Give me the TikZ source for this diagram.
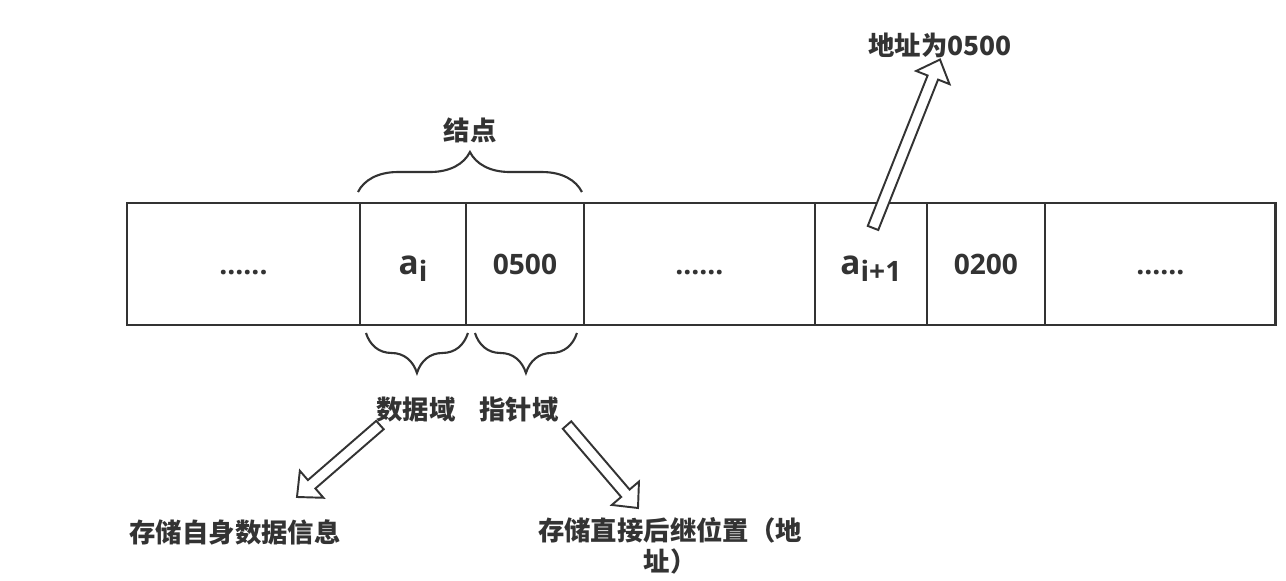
\documentclass[tikz,border=0pt]{standalone}
\usepackage{fontspec}
\setmainfont{Open Sans}
\newfontfamily\cjk{Noto Sans CJK SC}
\usetikzlibrary{positioning, calc, decorations.pathreplacing}
\definecolor{ink}{HTML}{333333}

\begin{document}
\begin{tikzpicture}[
      x=0.02cm, y=-0.02cm,
      cell/.style={rectangle, draw=ink, line width=1.5pt, outer sep=0pt, minimum height=2.44cm,
        text height=11.5pt, text depth=0pt, text=ink, font=\fontsize{16}{18}\selectfont\bfseries},
      cjktext/.style={text=ink, inner sep=1pt, font=\fontsize{15}{18}\selectfont\cjk\bfseries},
      bracepath/.style={draw=ink, line width=1.2pt, decorate, decoration={brace, amplitude=0.8cm}},
      hollowarrow/.style={draw=ink, line width=1.1pt, fill=white, line join=miter,
        to path={let \p1=(\tikztostart), \p2=(\tikztotarget),
          \n1={atan2(\y2-\y1,\x2-\x1)}, \n2={veclen(\x2-\x1,\y2-\y1)-11pt} in
          (\p1) ++(\n1+90:3.2pt) -- ++(\n1:\n2) -- ++(\n1+90:7pt) -- (\p2)
          -- ($(\p2)+(\n1+180:11pt)+(\n1-90:10.2pt)$) -- ++(\n1+90:7pt) -- ++(\n1+180:\n2) -- cycle}}
  ]
      \useasboundingbox (0,0) rectangle (1286,581);

      % Storage row
      \node[cell, minimum width=4.66cm] (c1) at (243.5,264) {......};
      \node[cell, minimum width=2.12cm, right=0pt of c1] (c2) {{\fontsize{19}{20}\selectfont a}\raisebox{-4pt}[0pt][0pt]{i}};
      \node[cell, minimum width=2.36cm, right=0pt of c2] (c3) {0500};
      \node[cell, minimum width=4.62cm, right=0pt of c3] (c4) {......};
      \node[cell, minimum width=2.24cm, right=0pt of c4] (c5) {{\fontsize{19}{20}\selectfont a}\raisebox{-4pt}[0pt][0pt]{i+1}};
      \node[cell, minimum width=2.36cm, right=0pt of c5] (c6) {0200};
      \node[cell, minimum width=4.62cm, right=0pt of c6] (c7) {......};

      % Braces
      \draw[bracepath] ([shift={(-2,-11)}]c2.north west) -- ([shift={(-2,-11)}]c3.north east);
      \draw[bracepath] ([shift={(2,8)}]c2.south east) -- ([shift={(6,8)}]c2.south west);
      \draw[bracepath] ([shift={(-7,8)}]c3.south east) -- ([shift={(9,8)}]c3.south west);

      % Labels
      \node[cjktext] (knot) at (470,130) {结点};
      \node[cjktext] (datafield) at (416,410) {数据域};
      \node[cjktext] (ptrfield) at (519,410) {指针域};
      \node[cjktext] (selfinfo) at (235,532) {存储自身数据信息};
      \node[cjktext, align=center] (nextinfo) at (670,546) {存储直接后继位置（地\\址）};
      \node[cjktext] (addr) at (940,45) {地址为0500};

      % Hollow arrows
      \coordinate (uptail) at (873,228);
      \coordinate (dtail) at (380,425);
      \coordinate (dtip) at (297,497);
      \coordinate (ptail) at (567,425);
      \coordinate (ptip) at (638,508);
      \draw[hollowarrow] (uptail) to (addr.south);
      \draw[hollowarrow] (dtail) to (dtip);
      \draw[hollowarrow] (ptail) to (ptip);
  \end{tikzpicture}
\end{document}
